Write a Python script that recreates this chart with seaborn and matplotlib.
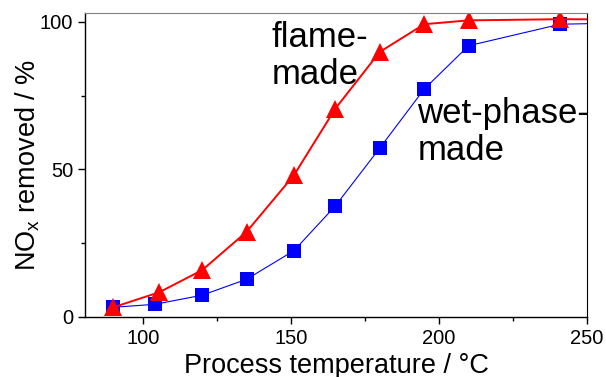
import matplotlib
matplotlib.use("Agg")
import matplotlib.pyplot as plt
import seaborn as sns
import pandas as pd
from matplotlib.ticker import MultipleLocator

# Data
wet_temp = [90, 104, 120, 135, 151, 165, 180, 195, 210, 241, 262]
wet_removed = [3.2, 4.2, 7.3, 12.7, 22.4, 37.6, 57.2, 77.2, 91.9, 99.2, 99.6]
flame_temp = [90, 105.5, 120, 135, 151, 165, 180, 195, 210, 241, 262]
flame_removed = [3.2, 8.3, 15.8, 28.8, 48.0, 70.6, 89.8, 99.2, 100.5, 100.9, 100.8]
x_ticks = [100, 150, 200, 250]
y_ticks = [0, 50, 100]

sns.set_theme(style="white")
plt.rcParams["font.family"] = ["Liberation Sans", "DejaVu Sans"]
plt.rcParams["mathtext.fontset"] = "custom"
plt.rcParams["mathtext.rm"] = "Liberation Sans"

fig = plt.figure(figsize=(6.06, 3.77), dpi=100)
ax = fig.add_axes([85 / 606, 1 - 316.7 / 377, 502 / 606, 303.7 / 377])

wet = pd.DataFrame({"T": wet_temp, "v": wet_removed})
flame = pd.DataFrame({"T": flame_temp, "v": flame_removed})

sns.lineplot(data=wet, x="T", y="v", ax=ax, color="#0000FF", linewidth=0.8,
             marker="s", markersize=10, markeredgecolor="#0000FF",
             markerfacecolor="#0000FF", markeredgewidth=0, sort=False)
sns.lineplot(data=flame, x="T", y="v", ax=ax, color="#FF0000", linewidth=1.4,
             marker="^", markersize=12.5, markeredgecolor="#FF0000",
             markerfacecolor="#FF0000", markeredgewidth=0, sort=False)

ax.set_xlim(80.4, 250)
ax.set_ylim(0, 103)
ax.set_xticks(x_ticks)
ax.set_yticks(y_ticks)
ax.xaxis.set_minor_locator(MultipleLocator(25))
ax.yaxis.set_minor_locator(MultipleLocator(25))
ax.tick_params(which="major", direction="out", length=5, width=1, color="black",
               labelsize=14.5, pad=3.5, labelcolor="black")
ax.tick_params(which="minor", direction="out", length=3, width=1, color="black")
ax.tick_params(axis="x", which="both", bottom=True, top=False)
ax.tick_params(axis="y", which="both", left=True, right=False)

for side in ["left", "bottom"]:
    ax.spines[side].set_color("black")
    ax.spines[side].set_linewidth(1.0)
ax.spines["right"].set_color("black")
ax.spines["right"].set_linewidth(0.8)
ax.spines["top"].set_color("#808080")
ax.spines["top"].set_linewidth(0.8)

ax.set_xlabel("Process temperature / °C", fontsize=19.5, color="black")
ax.set_ylabel(r"NO$_\mathregular{x}$ removed / %", fontsize=19.5, color="black")
ax.xaxis.set_label_coords(0.5, -0.118)
ax.yaxis.set_label_coords(-0.085, 0.5)

ax.text(0.372, 0.766, "flame-\nmade", transform=ax.transAxes, fontsize=25,
        ha="left", va="baseline", linespacing=1.15, color="black")
ax.text(0.662, 0.516, "wet-phase-\nmade", transform=ax.transAxes, fontsize=25,
        ha="left", va="baseline", linespacing=1.15, color="black")

fig.savefig("out.png", dpi=100)
